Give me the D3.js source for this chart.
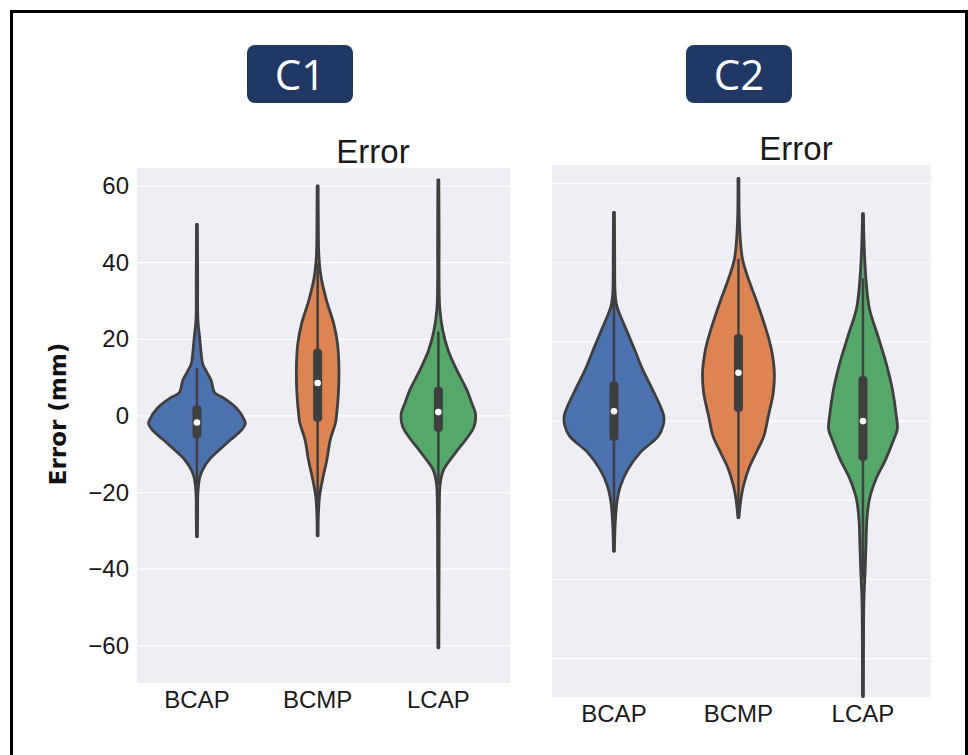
<!DOCTYPE html>
<html>
<head>
<meta charset="utf-8">
<script src="https://cdn.jsdelivr.net/npm/d3@7"></script>
<style>
  body { margin: 0; background: #fff; }
  svg { display: block; }
</style>
</head>
<body>
<div id="chart"></div>
<script>
// categories and ticks
const categories = ['BCAP', 'BCMP', 'LCAP'];
const yTicks = [60, 40, 20, 0, -20, -40, -60];
const yDomain = [-69.7, 64.7];
const colors = ['#4c72b0', '#dd8452', '#55a868'];

// violin profiles: [error (mm), relative density]
const c1_BCAP = [[50, 0.01], [35, 0.015], [25, 0.02], [20, 0.06], [16, 0.09], [13.5, 0.12], [11.5, 0.2], [9.4, 0.29], [6, 0.37], [4.7, 0.55], [2, 0.82], [-1, 0.98], [-2, 1.0], [-3.6, 0.93], [-6.3, 0.69], [-8.9, 0.46], [-11.5, 0.25], [-14, 0.12], [-16, 0.06], [-20, 0.02], [-26, 0.015], [-31.5, 0.01]];
const c1_BCMP = [[60, 0.01], [50, 0.015], [42, 0.025], [36.3, 0.07], [30.3, 0.18], [24.2, 0.33], [19, 0.41], [12.8, 0.44], [6, 0.43], [0, 0.39], [-1.8, 0.37], [-6.3, 0.26], [-11.5, 0.19], [-16.7, 0.1], [-21, 0.04], [-26, 0.015], [-31.3, 0.01]];
const c1_LCAP = [[61.6, 0.01], [45, 0.015], [35, 0.015], [28, 0.03], [22.4, 0.09], [17.2, 0.2], [12, 0.38], [6.8, 0.59], [3.4, 0.69], [0.5, 0.77], [-2.8, 0.74], [-5.5, 0.61], [-9.7, 0.35], [-14, 0.11], [-17.5, 0.04], [-25, 0.02], [-40, 0.015], [-50, 0.012], [-60.5, 0.01]];

const c2_BCAP = [[52.7, 0.01], [42, 0.015], [32, 0.025], [29, 0.06], [23.3, 0.24], [18.2, 0.41], [13.2, 0.57], [8.1, 0.77], [3.8, 0.93], [1.3, 1.0], [-1, 0.99], [-3.8, 0.89], [-7.9, 0.53], [-12.2, 0.28], [-16.4, 0.13], [-20.5, 0.06], [-26, 0.025], [-32.9, 0.01]];
const c2_BCMP = [[61.3, 0.01], [50, 0.02], [41, 0.08], [35.2, 0.22], [30.1, 0.37], [23.3, 0.55], [18.2, 0.66], [12.4, 0.72], [7.3, 0.7], [1.3, 0.6], [-3.8, 0.51], [-7.9, 0.36], [-12.2, 0.2], [-16.4, 0.1], [-19.7, 0.05], [-24.4, 0.01]];
const c2_LCAP = [[52.4, 0.01], [44, 0.025], [35.2, 0.065], [28.4, 0.13], [21.5, 0.3], [14.9, 0.46], [8.1, 0.59], [1.3, 0.67], [-2, 0.69], [-4.6, 0.62], [-9.6, 0.46], [-14.7, 0.26], [-19.7, 0.13], [-24.8, 0.08], [-31.6, 0.06], [-37.5, 0.045], [-45, 0.02], [-55, 0.012], [-69.6, 0.01]];

// inner box: [q1, median, q3, whisker low, whisker high]
const c1Box = [[-5.8, -1.7, 2.8, -18, 12.5], [-1.5, 8.6, 17.5, -22, 40], [-4.1, 1.0, 7.6, -18, 22]];
const c2Box = [[-5, 2.5, 10.1, -27, 32], [2.3, 12.2, 22, -22, 41], [-10.1, 0, 11.4, -40, 36]];

const W = 968, H = 755;
const svg = d3.select('#chart').append('svg').attr('width', W).attr('height', H);

// outer frame
svg.append('rect')
  .attr('x', 11.5).attr('y', 11.5).attr('width', 955).attr('height', 760)
  .attr('fill', 'none').attr('stroke', '#000').attr('stroke-width', 3);

const edge = '#3f3f3f';

function panel(opt) {
  const g = svg.append('g');
  let x = d3.scaleBand().domain(categories).range(opt.xRange);
  let y = d3.scaleLinear().domain(yDomain).range(opt.yRange);
  let w = d3.scaleLinear().domain([0, 1]).range([0, x.step() * 0.4]);

  g.append('rect')
    .attr('x', opt.bg[0]).attr('y', opt.yRange[1])
    .attr('width', opt.bg[1] - opt.bg[0]).attr('height', opt.yRange[0] - opt.yRange[1])
    .attr('fill', '#eeeef4');

  g.selectAll('.grid').data(yTicks).enter().append('line')
    .attr('x1', opt.bg[0]).attr('x2', opt.bg[1])
    .attr('y1', d => y(d)).attr('y2', d => y(d))
    .attr('stroke', '#fff').attr('stroke-width', 1.2);

  if (opt.showY) {
    const ax = g.append('g')
      .attr('transform', `translate(${opt.bg[0]},0)`)
      .call(d3.axisLeft(y).tickValues(yTicks).tickSize(0).tickPadding(8).tickFormat(d3.format('')));
    ax.select('.domain').remove();
    ax.selectAll('text')
      .attr('font-family', 'Liberation Sans, Arial, sans-serif')
      .attr('font-size', 24).attr('fill', '#1a1a1a');
  }

  const xa = g.append('g')
    .attr('transform', `translate(0,${opt.yRange[0]})`)
    .call(d3.axisBottom(x).tickSize(0).tickPadding(opt.xPad));
  xa.select('.domain').remove();
  xa.selectAll('text')
    .attr('font-family', 'Liberation Sans, Arial, sans-serif')
    .attr('font-size', 24).attr('fill', '#1a1a1a');

  categories.forEach((c, i) => {
    const cx = x(c) + x.bandwidth() / 2;
    const area = d3.area()
      .curve(d3.curveCatmullRom)
      .y(d => y(d[0]))
      .x0(d => cx - w(d[1]))
      .x1(d => cx + w(d[1]));
    g.append('path')
      .attr('d', area(opt.profiles[i]))
      .attr('fill', colors[i])
      .attr('stroke', edge).attr('stroke-width', 2.8)
      .attr('stroke-linejoin', 'round');

    const b = opt.box[i];
    g.append('line')
      .attr('x1', cx).attr('x2', cx)
      .attr('y1', y(b[3])).attr('y2', y(b[4]))
      .attr('stroke', edge).attr('stroke-width', 2.5);
    g.append('rect')
      .attr('x', cx - 4.5).attr('width', 9)
      .attr('y', y(b[2])).attr('height', y(b[0]) - y(b[2]))
      .attr('rx', 4).attr('fill', edge);
    g.append('circle')
      .attr('cx', cx).attr('cy', y(b[1])).attr('r', 3.3)
      .attr('fill', '#fff');
  });

  // title
  g.append('text')
    .attr('x', opt.titleX).attr('y', opt.titleY)
    .attr('text-anchor', 'middle')
    .attr('font-family', 'Liberation Sans, Arial, sans-serif')
    .attr('font-size', 33).attr('fill', '#1a1a1a')
    .text('Error');

  // badge
  g.append('rect')
    .attr('x', opt.badgeX).attr('y', 45).attr('width', 106).attr('height', 58)
    .attr('rx', 8).attr('fill', '#1f3864');
  g.append('text')
    .attr('x', opt.badgeX + 53).attr('y', 90)
    .attr('text-anchor', 'middle')
    .attr('font-family', 'Open Sans, Noto Sans, sans-serif')
    .attr('font-size', 42).attr('fill', '#fff')
    .text(opt.badge);
}

panel({
  xRange: [136.6, 498.7], bg: [137, 510], yRange: [683, 168],
  profiles: [c1_BCAP, c1_BCMP, c1_LCAP], box: c1Box,
  showY: true, xPad: 8, titleX: 373, titleY: 163, badgeX: 247, badge: 'C1'
});

panel({
  xRange: [551.7, 925.2], bg: [552, 931], yRange: [697, 165],
  profiles: [c2_BCAP, c2_BCMP, c2_LCAP], box: c2Box,
  showY: false, xPad: 8, titleX: 796, titleY: 160, badgeX: 686, badge: 'C2'
});

// y axis label
svg.append('text')
  .attr('transform', 'translate(66,414) rotate(-90)')
  .attr('text-anchor', 'middle')
  .attr('font-family', 'DejaVu Sans, sans-serif')
  .attr('font-weight', 'bold')
  .attr('font-size', 23).attr('fill', '#111')
  .text('Error (mm)');
</script>
</body>
</html>
